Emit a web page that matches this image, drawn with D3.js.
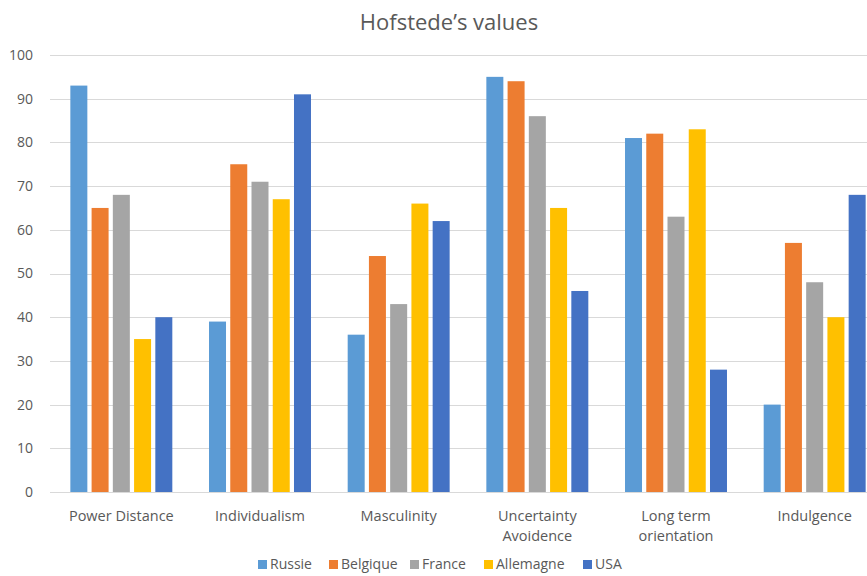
<!DOCTYPE html>
<html>
<head>
<meta charset="utf-8">
<script src="https://cdn.jsdelivr.net/npm/d3@7"></script>
<style>
  body { margin: 0; background: #fff; }
  text { font-family: "Open Sans", sans-serif; fill: #595959; }
</style>
</head>
<body>
<div id="chart"></div>
<script>
// Chart data
var categories = [["Power Distance"], ["Individualism"], ["Masculinity"],
                  ["Uncertainty", "Avoidence"], ["Long term", "orientation"], ["Indulgence"]];
var seriesNames = ["Russie", "Belgique", "France", "Allemagne", "USA"];
var russie    = [93, 39, 36, 95, 81, 20];
var belgique  = [65, 75, 54, 94, 82, 57];
var france    = [68, 71, 43, 86, 63, 48];
var allemagne = [35, 67, 66, 65, 83, 40];
var usa       = [40, 91, 62, 46, 28, 68];
var yTicks = [0, 10, 20, 30, 40, 50, 60, 70, 80, 90, 100];

var colors = ["#5B9BD5", "#ED7D31", "#A5A5A5", "#FFC000", "#4472C4"];
var seriesValues = [russie, belgique, france, allemagne, usa];

var width = 867, height = 576;

var svg = d3.select("#chart").append("svg")
    .attr("width", width)
    .attr("height", height);

// Scales
var x0 = d3.scaleBand()
    .domain(d3.range(categories.length))
    .range([52, 884])
    .paddingInner(0.234)
    .paddingOuter(0.117);

var x1 = d3.scaleBand()
    .domain(seriesNames)
    .range([0, x0.bandwidth()])
    .paddingInner(0.2)
    .paddingOuter(0.1);

var y = d3.scaleLinear()
    .domain([0, 100])
    .range([492, 55]);

// Gridlines
svg.append("g").selectAll("line")
    .data(yTicks)
    .enter().append("line")
        .attr("x1", 50)
        .attr("x2", width)
        .attr("y1", function(d) { return Math.round(y(d)) + 0.5; })
        .attr("y2", function(d) { return Math.round(y(d)) + 0.5; })
        .attr("stroke", "#d9d9d9")
        .attr("stroke-width", 1);

// Y axis labels
var yAxis = d3.axisLeft(y).tickValues(yTicks).tickSize(0).tickPadding(0);
var yg = svg.append("g")
    .attr("transform", "translate(33,0)")
    .call(yAxis);
yg.select(".domain").remove();
yg.selectAll("text")
    .attr("font-size", "14px")
    .style("font-family", "'Open Sans', sans-serif")
    .attr("fill", "#595959");

// Bars
seriesNames.forEach(function(name, si) {
    svg.append("g").selectAll("rect")
        .data(seriesValues[si])
        .enter().append("rect")
            .attr("x", function(d, i) { return x0(i) + x1(name); })
            .attr("y", function(d) { return y(d); })
            .attr("width", x1.bandwidth())
            .attr("height", function(d) { return y(0) - y(d); })
            .attr("fill", colors[si]);
});

// Category labels
var catG = svg.append("g").selectAll("text")
    .data(categories)
    .enter().append("text")
        .attr("x", function(d, i) { return x0(i) + x0.bandwidth() / 2; })
        .attr("y", 521)
        .attr("text-anchor", "middle")
        .attr("font-size", "14.5px");
catG.selectAll("tspan")
    .data(function(d) { return d; })
    .enter().append("tspan")
        .attr("x", function() { return d3.select(this.parentNode).attr("x"); })
        .attr("dy", function(d, i) { return i === 0 ? 0 : 20; })
        .text(function(d) { return d; });

// Title
svg.append("text")
    .attr("x", 449)
    .attr("y", 30)
    .attr("text-anchor", "middle")
    .attr("font-size", "22px")
    .text("Hofstede\u2019s values");

// Legend
var legendX = [258, 329, 410, 484, 583];
var legend = svg.append("g").selectAll("g")
    .data(seriesNames)
    .enter().append("g")
        .attr("transform", function(d, i) { return "translate(" + legendX[i] + ",569)"; });
legend.append("rect")
    .attr("x", 0)
    .attr("y", -9)
    .attr("width", 9)
    .attr("height", 9)
    .attr("fill", function(d, i) { return colors[i]; });
legend.append("text")
    .attr("x", 12)
    .attr("y", 0)
    .attr("font-size", "14px")
    .text(function(d) { return d; });
</script>
</body>
</html>
